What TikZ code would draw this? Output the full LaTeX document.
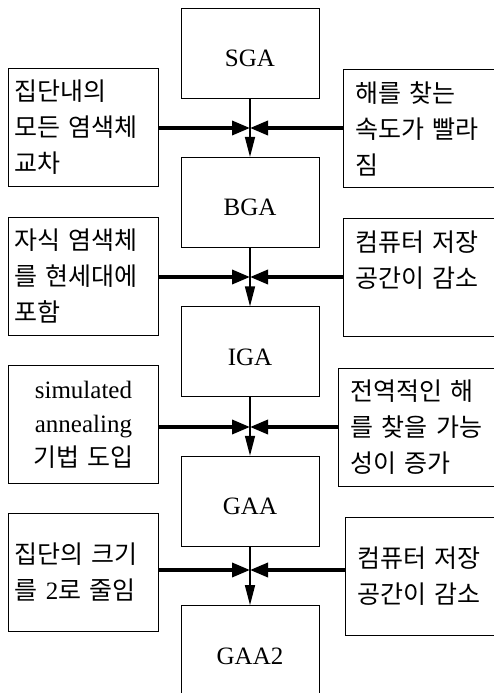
\documentclass[tikz,border=0pt]{standalone}
\usepackage{fontspec}
\setmainfont{Liberation Serif}
\newfontfamily\kr[WordSpace=1.8]{Noto Sans CJK KR}
\usetikzlibrary{arrows.meta,positioning}

\begin{document}
\begin{tikzpicture}[
  x=1pt, y=-1pt,
  stage/.style={draw, line width=0.9pt, minimum width=138pt, minimum height=90pt, inner sep=0pt, text height=27pt, text depth=0pt, font=\fontsize{25}{30}\selectfont},
  note/.style={draw, line width=0.9pt, anchor=north west, align=left, text width=138pt, inner xsep=6pt, inner ysep=0pt, minimum height=118pt, font=\kr\fontsize{25}{36}\selectfont},
  rnote/.style={note, text width=150pt, inner xsep=12pt},
  flow/.style={-{Triangle[length=20pt,width=10pt]}, line width=1.5pt},
  feed/.style={-{Triangle[length=18pt,width=14pt]}, line width=3.5pt}
]
\useasboundingbox (0,0) rectangle (494,693);
\clip (0,0) rectangle (494,693);

\node[stage] (sga) at (250,53) {SGA};
\node[stage, below=58.5pt of sga] (bga) {BGA};
\node[stage, below=58.5pt of bga] (iga) {IGA};
\node[stage, below=58.5pt of iga] (gaa) {GAA};
\node[stage, below=58.5pt of gaa] (gaa2) {GAA2};

\node[note] (cross) at (8,68) {집단내의\\ 모든 염색체\\ 교차};
\node[note] (keep) at (8,217) {자식 염색체\\ 를 현세대에\\ 포함};
\node[note, align=center, font=\fontsize{25}{34}\selectfont] (anneal) at (8,365) {simulated\\ annealing\\ {\kr\fontsize{25}{34}\selectfont 기법 도입}};
\node[note] (halve) at (8,513) {집단의 크기\\ 를 {\rmfamily 2}로 줄임};

\node[rnote] (speed) at (343,69) {해를 찾는\\ 속도가 빨라\\ 짐};
\node[rnote] (store) at (343,218) {컴퓨터 저장\\ 공간이 감소\\ \mbox{}};
\node[rnote] (global) at (338,368) {전역적인 해\\ 를 찾을 가능\\ 성이 증가};
\node[rnote] (store2) at (345,517) {컴퓨터 저장\\ 공간이 감소};

\coordinate (j1) at (250,128);
\coordinate (j2) at (250,277);
\coordinate (j3) at (250,427);
\coordinate (j4) at (250,570);

\draw[feed] (cross.east |- j1) -- (j1);
\draw[feed] (speed.west |- j1) -- (j1);
\draw[feed] (keep.east |- j2) -- (j2);
\draw[feed] (store.west |- j2) -- (j2);
\draw[feed] (anneal.east |- j3) -- (j3);
\draw[feed] (global.west |- j3) -- (j3);
\draw[feed] (halve.east |- j4) -- (j4);
\draw[feed] (store2.west |- j4) -- (j4);

\draw[flow] (sga) -- (bga);
\draw[flow] (bga) -- (iga);
\draw[flow] (iga) -- (gaa);
\draw[flow] (gaa) -- (gaa2);
\end{tikzpicture}
\end{document}
